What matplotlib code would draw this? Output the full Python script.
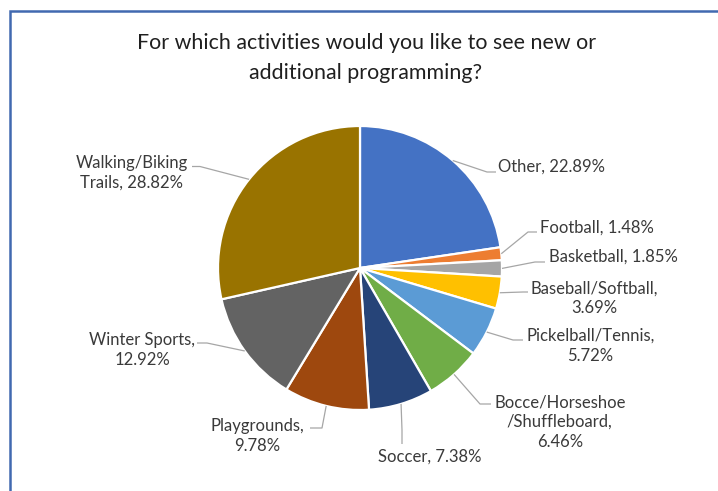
import matplotlib
matplotlib.use("Agg")
import matplotlib.pyplot as plt
import numpy as np
from matplotlib.patches import Rectangle

# Survey responses, clockwise from 12 o'clock
categories = ["Other", "Football", "Basketball", "Baseball/Softball",
              "Pickelball/Tennis", "Bocce/Horseshoe\n/Shuffleboard", "Soccer",
              "Playgrounds", "Winter Sports", "Walking/Biking\nTrails"]
percentages = [22.89, 1.48, 1.85, 3.69, 5.72, 6.46, 7.38, 9.78, 12.92, 28.82]
separators = [", ", ", ", ", ", ",\n", ",\n", ",\n", ", ", ",\n", ",\n", ", "]
colors = ["#4472C4", "#ED7D31", "#A5A5A5", "#FFC000", "#5B9BD5",
          "#70AD47", "#264478", "#9E480E", "#636363", "#997300"]
title_lines = ["For which activities would you like to see new or",
               "additional programming?"]

W, H = 718, 491
DPI = 100
plt.rcParams["font.family"] = ["Lato", "DejaVu Sans"]

fig = plt.figure(figsize=(W / DPI, H / DPI), dpi=DPI)
ax = fig.add_axes([0, 0, 1, 1])


def py(y):
    """Pixel row (top-down) to data y."""
    return H - y


cx, cy, R = 360, 268, 142
wedges, _ = ax.pie(percentages, colors=colors, startangle=90, counterclock=False,
                   center=(cx, py(cy)), radius=R,
                   wedgeprops=dict(edgecolor="white", linewidth=1.6))
ax.set_xlim(0, W)
ax.set_ylim(0, H)
ax.set_aspect("equal")
ax.axis("off")

# label block: (x, y, horizontal alignment), leader elbow and leader end
label_layout = [
    (498, 167, "left", (487, 172), (496, 172)),
    (540, 228, "left", (528, 232), (537, 232)),
    (549, 257, "left", (535, 262), (545, 262)),
    (531, 298.5, "left", (523, 292), (528, 292)),
    (526, 346, "left", (513, 340), (523, 340)),
    (494, 422, "left", (480, 404), (491, 404)),
    (430, 457, "center", (402, 430), (402, 444)),
    (304, 436, "right", (322, 428), (310, 428)),
    (195, 350, "right", (207, 343), (197, 343)),
    (188, 173, "right", (200, 166.5), (192, 166.5)),
]

for w, name, pct, sep, (tx, ty, ha, elbow, end) in zip(
        wedges, categories, percentages, separators, label_layout):
    mid = np.deg2rad((w.theta1 + w.theta2) / 2)
    sx = w.center[0] + w.r * np.cos(mid)
    sy = w.center[1] + w.r * np.sin(mid)
    ax.plot([sx, elbow[0], end[0]], [sy, py(elbow[1]), py(end[1])],
            color="#A6A6A6", lw=0.9, solid_capstyle="butt", zorder=1)
    ax.text(tx, py(ty), f"{name}{sep}{pct:.2f}%", ha=ha, va="center",
            multialignment="center", fontsize=12, color="#3A3A3A",
            linespacing=1.3)

ax.text(367, py(48.5), title_lines[0], ha="center", va="baseline",
        fontsize=15.4, color="#1F1F1F")
ax.text(366, py(78.5), title_lines[1], ha="center", va="baseline",
        fontsize=15.4, color="#1F1F1F")

# chart frame
ax.add_patch(Rectangle((9.5, -20), W + 40, py(10.5) + 20, fill=False,
                       edgecolor="#4169B0", lw=1.8, clip_on=False))

fig.savefig("out.png", dpi=DPI)
